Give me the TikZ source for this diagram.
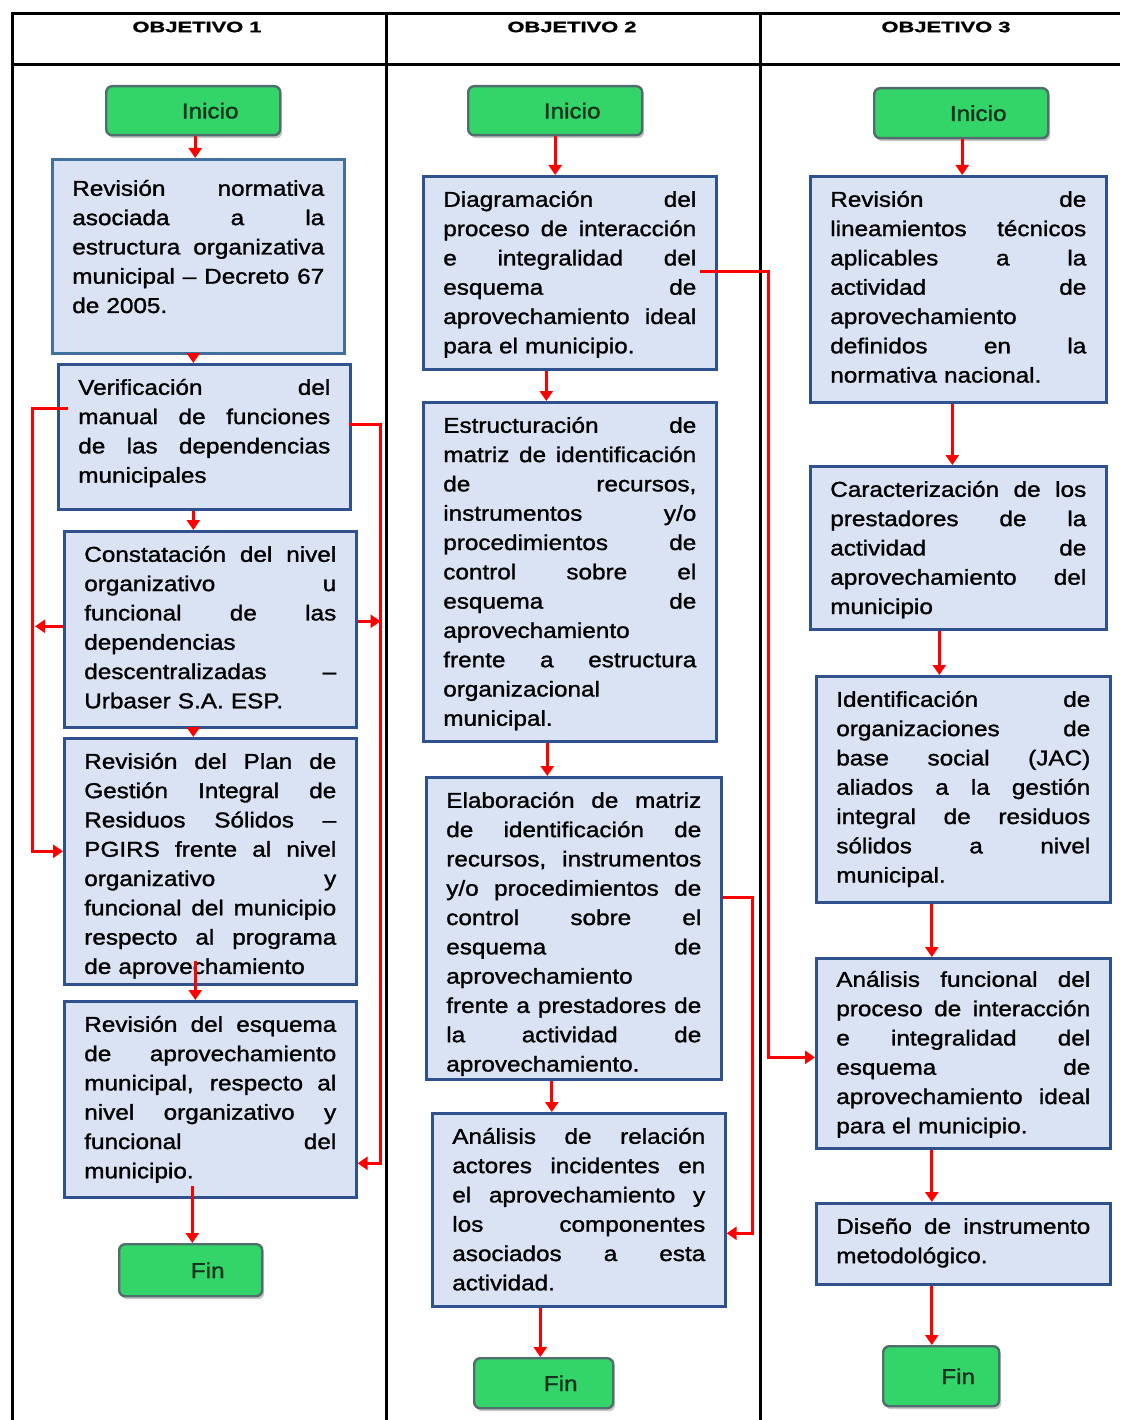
\documentclass[tikz,border=0pt]{standalone}
\usepackage{fontspec}
\setmainfont{Liberation Sans}[FakeStretch=1.13,FakeBold=1.3]
\newfontfamily\hdrfont{Liberation Sans}[FakeStretch=1.46,FakeBold=1.5]
\usetikzlibrary{arrows.meta,calc,shadows}
\definecolor{boxfill}{RGB}{218,227,243}
\definecolor{boxline}{RGB}{47,82,143}
\definecolor{boxlineb}{RGB}{65,113,156}
\definecolor{grn}{RGB}{51,212,104}
\definecolor{grnline}{RGB}{80,110,110}
\definecolor{grntext}{RGB}{20,50,30}
\newlength\jw
\newcommand\jl[1]{\leavevmode\hbox to \jw{\spaceskip=0.28em plus 1fil\relax #1}\\}
\newcommand\varr[3]{\coordinate (tmp) at ($(#1.south)+(#2,0)$); \draw[arr] (tmp) -- (tmp |- #3.north);}
\begin{document}
\begin{tikzpicture}[x=1pt,y=-1pt,
  every node/.style={font=\fontsize{21.5}{29.3}\selectfont},
  tw/.style={text width=#1, execute at begin node={\setlength{\jw}{#1}}},
  stepbox/.style={draw=boxline, line width=2.6pt, fill=boxfill, anchor=north west, inner xsep=20pt, inner ysep=0pt, align=left, text height=30.5pt},
  term/.style={draw=grnline, line width=2.4pt, fill=grn, rounded corners=6pt, anchor=north west, text=grntext, inner sep=0pt,
    drop shadow={shadow xshift=2pt,shadow yshift=-3pt,fill=black!22,opacity=1}},
  arr/.style={draw=red, line width=3pt, -{Triangle[length=10pt,width=13pt]}},
  grid/.style={line width=3pt, black},
  hdr/.style={font=\hdrfont\bfseries\fontsize{15}{18}\selectfont}
]
\useasboundingbox (0,0) rectangle (1120,1420);
% table
\draw[grid] (11,14) -- (1120,14);
\draw[grid] (11,65) -- (1120,65);
\draw[grid] (12,12.5) -- (12,1420);
\draw[grid] (386,12.5) -- (386,1420);
\draw[grid] (760,12.5) -- (760,1420);
\node[hdr] (h1) at (197,27) {OBJETIVO 1};
\node[hdr] (h2) at (572,27) {OBJETIVO 2};
\node[hdr] (h3) at (946,27) {OBJETIVO 3};

% column 1
\node[term, minimum width=174pt, minimum height=49pt] (i1) at (105,85) {\hspace*{34pt}Inicio};
\node[stepbox, draw=boxlineb, tw=252pt, text height=36.5pt, text depth=157.5pt] (b1) at (51,158) {%
\jl{Revisión normativa}\jl{asociada a la}\jl{estructura organizativa}\jl{municipal – Decreto 67}de 2005.};
\node[stepbox, tw=252pt, text depth=114.5pt] (b2) at (57,363) {%
\jl{Verificación del}\jl{manual de funciones}\jl{de las dependencias}municipales};
\node[stepbox, tw=252pt, text depth=165.5pt] (b3) at (63,530) {%
\jl{Constatación del nivel}\jl{organizativo u}\jl{funcional de las}dependencias\\\jl{descentralizadas –}Urbaser S.A. ESP.};
\node[stepbox, tw=252pt, text depth=215.5pt] (b4) at (63,737) {%
\jl{Revisión del Plan de}\jl{Gestión Integral de}\jl{Residuos Sólidos –}\jl{PGIRS frente al nivel}\jl{organizativo y}\jl{funcional del municipio}\jl{respecto al programa}de aprovechamiento};
\node[stepbox, tw=252pt, text depth=165.5pt] (b5) at (63,1000) {%
\jl{Revisión del esquema}\jl{de aprovechamiento}\jl{municipal, respecto al}\jl{nivel organizativo y}\jl{funcional del}municipio.};
\node[term, minimum width=143pt, minimum height=52pt] (f1) at (118,1243) {\hspace*{34pt}Fin};

% column 2
\node[term, minimum width=174pt, minimum height=49pt] (i2) at (467,85) {\hspace*{34pt}Inicio};
\node[stepbox, tw=253pt, text depth=162.5pt] (c1) at (422,175) {%
\jl{Diagramación del}\jl{proceso de interacción}\jl{e integralidad del}\jl{esquema de}\jl{aprovechamiento ideal}para el municipio.};
\node[stepbox, tw=253pt, text depth=308.5pt] (c2) at (422,401) {%
\jl{Estructuración de}\jl{matriz de identificación}\jl{de recursos,}\jl{instrumentos y/o}\jl{procedimientos de}\jl{control sobre el}\jl{esquema de}aprovechamiento\\\jl{frente a estructura}organizacional\\municipal.};
\node[stepbox, tw=255pt, text depth=271.5pt] (c3) at (425,776) {%
\jl{Elaboración de matriz}\jl{de identificación de}\jl{recursos, instrumentos}\jl{y/o procedimientos de}\jl{control sobre el}\jl{esquema de}aprovechamiento\\\jl{frente a prestadores de}\jl{la actividad de}aprovechamiento.};
\node[stepbox, tw=253pt, text depth=162.5pt] (c4) at (431,1112) {%
\jl{Análisis de relación}\jl{actores incidentes en}\jl{el aprovechamiento y}\jl{los componentes}\jl{asociados a esta}actividad.};
\node[term, minimum width=139pt, minimum height=50pt] (f2) at (473,1357) {\hspace*{34pt}Fin};

% column 3
\node[term, minimum width=174pt, minimum height=50pt] (i3) at (873,87) {\hspace*{34pt}Inicio};
\node[stepbox, tw=256pt, text depth=195.5pt] (d1) at (809,175) {%
\jl{Revisión de}\jl{lineamientos técnicos}\jl{aplicables a la}\jl{actividad de}aprovechamiento\\\jl{definidos en la}normativa nacional.};
\node[stepbox, tw=256pt, text depth=132.5pt] (d2) at (809,465) {%
\jl{Caracterización de los}\jl{prestadores de la}\jl{actividad de}\jl{aprovechamiento del}municipio};
\node[stepbox, tw=254pt, text depth=195.5pt] (d3) at (815,675) {%
\jl{Identificación de}\jl{organizaciones de}\jl{base social (JAC)}\jl{aliados a la gestión}\jl{integral de residuos}\jl{sólidos a nivel}municipal.};
\node[stepbox, tw=254pt, text height=28.5pt, text depth=161.5pt] (d4) at (815,957) {%
\jl{Análisis funcional del}\jl{proceso de interacción}\jl{e integralidad del}\jl{esquema de}\jl{aprovechamiento ideal}para el municipio.};
\node[stepbox, tw=254pt, text depth=50.5pt] (d5) at (815,1202) {%
\jl{Diseño de instrumento}metodológico.};
\node[term, minimum width=116pt, minimum height=60pt] (f3) at (882,1345) {\hspace*{34pt}Fin};

% column 1 arrows
\varr{i1}{2}{b1}
\varr{b1}{-5}{b2}
\varr{b2}{-11}{b3}
\varr{b3}{-17}{b4}
\coordinate (s45) at ($(b4.south)+(-15,-25)$);
\draw[arr] (s45) -- (s45 |- b5.north);
\coordinate (s5f) at ($(b5.south)+(-18,-13)$);
\draw[arr] (s5f) -- (s5f |- f1.north);
\draw[arr] ($(b2.west)+(11,-28.5)$) -| ($(b4.west)+(-31,-10)$) -- ($(b4.west)+(0,-10)$);
\draw[arr] ($(b3.west)+(0,-3)$) -- ++(-28,0);
\draw[arr] ($(b2.east)+(-3,-12.5)$) -| ($(b5.east)+(23,64)$) -- ($(b5.east)+(0,64)$);
\draw[arr] ($(b3.east)+(0,-8)$) -- ++(23,0);

% column 2 arrows
\varr{i2}{0}{c1}
\varr{c1}{-23.5}{c2}
\varr{c2}{-22.5}{c3}
\varr{c3}{-22}{c4}
\varr{c4}{-38.5}{f2}
\draw[arr] ($(c3.east)+(0,-31)$) -| ($(c4.east)+(26,23.5)$) -- ($(c4.east)+(0,23.5)$);
\draw[arr] ($(c1.east)+(-18,-1.5)$) -| ($(d4.west)+(-47,4)$) -- ($(d4.west)+(0,4)$);

% column 3 arrows
\varr{i3}{1}{d1}
\varr{d1}{-6}{d2}
\varr{d2}{-19}{d3}
\varr{d3}{-31.5}{d4}
\varr{d4}{-31.5}{d5}
\varr{d5}{-31.5}{f3}
\end{tikzpicture}
\end{document}
